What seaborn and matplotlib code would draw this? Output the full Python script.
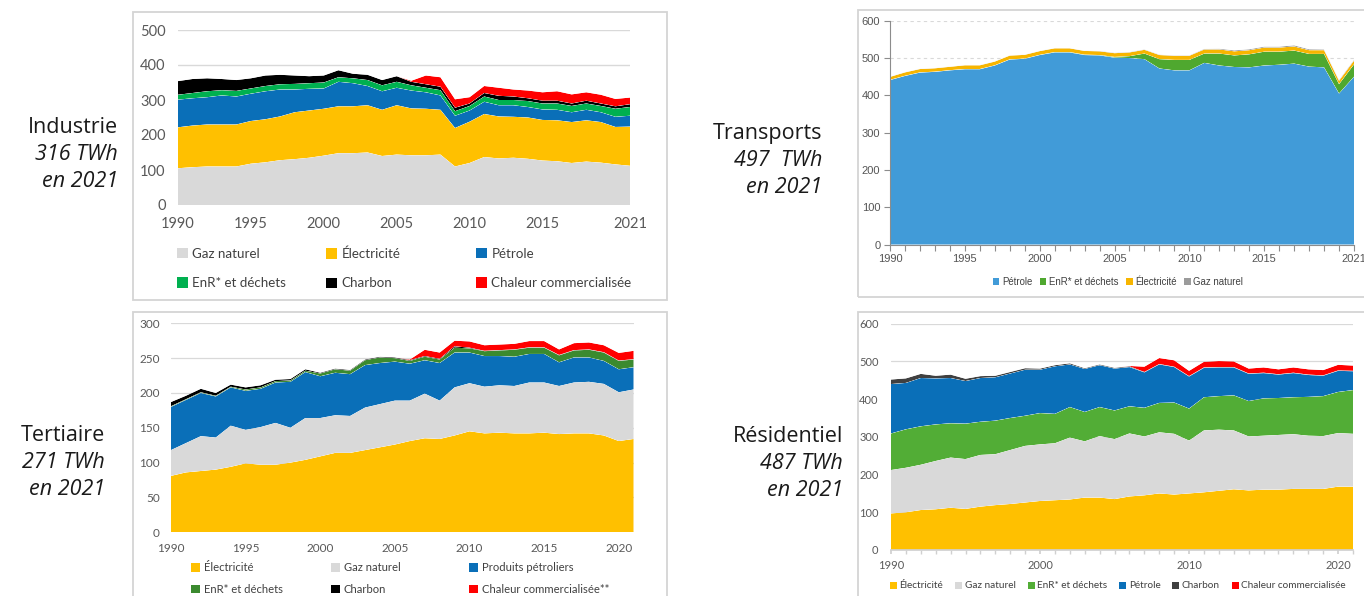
import pandas as pd
import seaborn as sns
import seaborn.objects as so
import matplotlib as mpl
import matplotlib.pyplot as plt
from matplotlib.patches import Patch, Rectangle

# === Data (TWh) ===
years = list(range(1990, 2022))

# Industrie
ind_gaz = [105, 108, 110, 110, 110, 118, 122, 128, 131, 135, 141, 148, 148, 150, 140, 144,
           142, 142, 144, 110, 120, 137, 133, 135, 132, 127, 125, 120, 124, 121, 116, 112]
ind_elec = [117, 119, 120, 120, 120, 122, 123, 125, 134, 135, 134, 134, 134, 135, 132, 141,
            134, 133, 128, 110, 118, 123, 120, 117, 118, 116, 117, 117, 118, 116, 107, 112]
ind_petrole = [79, 78, 78, 83, 80, 78, 80, 77, 65, 62, 58, 70, 66, 55, 53, 50,
               51, 47, 41, 35, 32, 35, 32, 33, 30, 30, 30, 28, 30, 28, 29, 31]
ind_enr = [14, 15, 17, 15, 16, 15, 15, 15, 16, 16, 17, 13, 14, 17, 17, 17,
           15, 13, 15, 13, 13, 15, 15, 15, 17, 17, 18, 18, 18, 18, 23, 25]
ind_charbon = [39, 40, 37, 32, 31, 29, 30, 27, 24, 20, 20, 20, 13, 15, 15, 16,
               10, 10, 10, 10, 7, 10, 12, 10, 8, 8, 8, 7, 8, 7, 7, 8]
ind_chaleur = [0, 0, 0, 0, 0, 0, 0, 0, 0, 0, 0, 0, 0, 0, 0, 0,
               3, 25, 27, 24, 18, 20, 23, 20, 22, 24, 27, 26, 24, 25, 21, 19]

# Transports
tr_petrole = [441, 452, 461, 463, 467, 470, 470, 480, 496, 498, 508, 515, 515, 508, 507, 501,
              500, 497, 472, 467, 467, 487, 480, 476, 475, 480, 482, 485, 477, 475, 405, 450]
tr_enr = [0.5, 0.5, 0.5, 0.5, 0.5, 0.5, 0.5, 0.5, 0.5, 0.5, 0.5, 1, 1, 1, 1, 2,
          5, 15, 25, 28, 28, 25, 32, 31, 35, 37, 35, 35, 34, 36, 25, 33]
tr_elec = [8, 9, 9, 9, 9, 10, 10, 10, 10, 10, 10, 10, 10, 10, 10, 10,
           10, 10, 11, 11, 11, 11, 11, 11, 11, 11, 11, 11, 10, 10, 9, 10]
tr_gaz = [0.5, 0.5, 0.5, 0.5, 0.5, 0.5, 0.5, 0.5, 0.5, 0.5, 0.5, 0.5, 0.5, 0.5, 1, 1,
          1, 1, 1, 1, 1, 1.5, 2, 2.5, 2.5, 2.5, 2.5, 3, 2.5, 2, 2, 2]

# Tertiaire
te_elec = [81, 86, 88, 90, 94, 99, 97, 97, 100, 104, 109, 114, 114, 118, 122, 126,
           131, 135, 134, 139, 145, 142, 143, 142, 142, 143, 141, 142, 142, 139, 131, 134]
te_gaz = [37, 42, 50, 46, 59, 48, 54, 60, 50, 60, 55, 54, 53, 61, 62, 63,
          58, 64, 55, 69, 69, 67, 68, 68, 73, 72, 69, 73, 74, 74, 70, 71]
te_petrole = [62, 62, 62, 59, 55, 56, 55, 58, 66, 66, 60, 61, 60, 61, 59, 56,
              53, 48, 54, 50, 44, 44, 42, 42, 41, 41, 34, 36, 35, 33, 33, 32]
te_enr = [1, 1, 1, 1, 1, 2, 2, 2, 2, 2, 4, 5, 5, 7, 8, 5,
          4, 5, 5, 7, 6, 7, 8, 10, 9, 9, 10, 10, 11, 12, 12, 11]
te_charbon = [6, 5, 5, 4, 3, 3, 3, 2, 2, 2, 1, 1, 1, 1, 1, 1,
              1, 1, 1, 2, 1, 0.5, 0.5, 0.5, 0.5, 0.5, 0.5, 0.5, 0.5, 0.5, 0.5, 0.5]
te_chaleur = [0, 0, 0, 0, 0, 0, 0, 0, 0, 0, 0, 0, 0, 0, 0, 0,
              1, 9, 9, 8, 9, 8, 8, 8, 9, 9, 8, 10, 10, 10, 11, 12]

# Résidentiel
re_elec = [97, 100, 106, 108, 112, 109, 115, 119, 122, 126, 130, 132, 134, 139, 139, 135,
           142, 145, 150, 147, 150, 153, 157, 161, 158, 160, 160, 162, 162, 162, 168, 168]
re_gaz = [115, 118, 120, 128, 133, 132, 137, 135, 143, 150, 150, 151, 164, 149, 163, 159,
          167, 156, 162, 161, 140, 164, 162, 156, 143, 143, 145, 145, 141, 140, 142, 140]
re_enr = [97, 102, 102, 97, 91, 94, 88, 89, 85, 80, 83, 78, 81, 78, 77, 76,
          72, 76, 78, 83, 85, 88, 89, 93, 94, 99, 98, 98, 103, 106, 109, 116]
re_petrole = [131, 123, 128, 122, 120, 113, 116, 115, 118, 122, 115, 126, 113, 114, 111, 111,
              104, 94, 102, 94, 85, 78, 76, 74, 72, 67, 62, 64, 58, 54, 56, 50]
re_charbon = [12, 12, 11, 7, 9, 6, 5, 4, 4, 4, 3, 3, 3, 2, 2, 2,
              2, 1, 1, 1, 1, 1, 1, 1, 1, 1, 1, 1, 1, 1, 1, 1]
re_chaleur = [0, 0, 0, 0, 0, 0, 0, 0, 0, 0, 0, 0, 0, 0, 0, 0,
              1, 14, 16, 17, 14, 15, 16, 15, 13, 14, 13, 14, 14, 14, 15, 14]

industrie = {"Gaz naturel": ind_gaz, "Électricité": ind_elec, "Pétrole": ind_petrole,
             "EnR* et déchets": ind_enr, "Charbon": ind_charbon,
             "Chaleur commercialisée": ind_chaleur}
industrie_colors = {"Gaz naturel": "#d9d9d9", "Électricité": "#ffc000", "Pétrole": "#0a6fb8",
                    "EnR* et déchets": "#00b050", "Charbon": "#000000",
                    "Chaleur commercialisée": "#ff0000"}

transports = {"Pétrole": tr_petrole, "EnR* et déchets": tr_enr,
              "Électricité": tr_elec, "Gaz naturel": tr_gaz}
transports_colors = {"Pétrole": "#419bd8", "EnR* et déchets": "#4fa82f",
                     "Électricité": "#f7b500", "Gaz naturel": "#9b9b9b"}

tertiaire = {"Électricité": te_elec, "Gaz naturel": te_gaz, "Produits pétroliers": te_petrole,
             "EnR* et déchets": te_enr, "Charbon": te_charbon,
             "Chaleur commercialisée**": te_chaleur}
tertiaire_colors = {"Électricité": "#ffc000", "Gaz naturel": "#d9d9d9",
                    "Produits pétroliers": "#0a6fb8", "EnR* et déchets": "#3b8a2f",
                    "Charbon": "#000000", "Chaleur commercialisée**": "#ff0000"}

residentiel = {"Électricité": re_elec, "Gaz naturel": re_gaz, "EnR* et déchets": re_enr,
               "Pétrole": re_petrole, "Charbon": re_charbon,
               "Chaleur commercialisée": re_chaleur}
residentiel_colors = {"Électricité": "#ffc000", "Gaz naturel": "#d9d9d9",
                      "EnR* et déchets": "#52ad36", "Pétrole": "#0a6fb8",
                      "Charbon": "#404040", "Chaleur commercialisée": "#ff0000"}

# === Style ===
sns.set_theme(style="white")
plt.rcParams['font.family'] = ['Open Sans', 'DejaVu Sans']
so.Plot.config.theme.update(mpl.rcParams)

W, H = 1364, 596
fig = plt.figure(figsize=(W / 100, H / 100), dpi=100)
fig.patch.set_facecolor("white")


def px_axes(x0, x1, y_top, y_bottom):
    return fig.add_axes([x0 / W, 1 - y_bottom / H, (x1 - x0) / W, (y_bottom - y_top) / H])


def frame(x0, y0, x1, y1):
    fig.add_artist(Rectangle((x0 / W, 1 - y1 / H), (x1 - x0) / W, (y1 - y0) / H,
                             transform=fig.transFigure, fill=False,
                             edgecolor="#d4d4d4", linewidth=1.3))


def stacked(ax, series, colors):
    parts = [pd.DataFrame({"annee": years, "twh": vals, "source": name})
             for name, vals in series.items()]
    df = pd.concat(parts, ignore_index=True)
    (so.Plot(df, x="annee", y="twh", color="source")
        .add(so.Area(alpha=1, edgewidth=0), so.Stack(), legend=False)
        .scale(color=so.Nominal(colors, order=list(series)))
        .on(ax)
        .plot())
    ax.set_xlabel("")
    ax.set_ylabel("")
    ax.set_facecolor("white")
    ax.set_axisbelow(True)


def column_legends(ax, series, colors, cols_x, rows_y, fontsize, family, sq=0.7, gap=1.0):
    # one small legend per column so the columns start where the reference has them
    names = list(series)
    ncols = len(cols_x)
    for c, x in enumerate(cols_x):
        idx = [i for i in range(len(names)) if i % ncols == c]
        handles = [Patch(facecolor=colors[names[i]], edgecolor="none") for i in idx]
        leg = ax.legend(handles, [names[i] for i in idx], loc="center left",
                        bbox_to_anchor=(x / W, 1 - rows_y / H), bbox_transform=fig.transFigure,
                        frameon=False, handlelength=sq, handleheight=sq,
                        handletextpad=0.35, labelspacing=gap, borderpad=0, borderaxespad=0,
                        prop={"family": family, "size": fontsize})
        for t in leg.get_texts():
            t.set_color("#404040")
        ax.add_artist(leg)
    ax.legend_ = None  # avoid drawing the last one twice


def row_legend(ax, series, colors, cx, cy, fontsize, family, spacing):
    handles = [Patch(facecolor=colors[n], edgecolor="none") for n in series]
    leg = ax.legend(handles, list(series), loc="center", ncol=len(series),
                    bbox_to_anchor=(cx / W, 1 - cy / H), bbox_transform=fig.transFigure,
                    frameon=False, handlelength=0.7, handleheight=0.7, handletextpad=0.25,
                    columnspacing=spacing, borderpad=0, prop={"family": family, "size": fontsize})
    for t in leg.get_texts():
        t.set_color("#404040")


def side_label(x, y, sector, total):
    fam = ["Open Sans", "DejaVu Sans"]
    fig.text(x / W, 1 - y / H, sector, ha="right", va="baseline", fontsize=15.5,
             family=fam, color="#1a1a1a")
    fig.text(x / W, 1 - (y + 27) / H, total, ha="right", va="baseline", fontsize=15.5,
             family=fam, style="italic", color="#1a1a1a")
    fig.text(x / W, 1 - (y + 54) / H, "en 2021", ha="right", va="baseline", fontsize=15.5,
             family=fam, style="italic", color="#1a1a1a")


# === Industrie ===
frame(133, 12, 667, 300)
ax1 = px_axes(178, 630, 30, 205)
stacked(ax1, industrie, industrie_colors)
ax1.set_xlim(1990, 2021)
ax1.set_ylim(0, 500)
ax1.set_yticks(range(0, 501, 100))
ax1.set_xticks([1990, 1995, 2000, 2005, 2010, 2015, 2021])
ax1.grid(axis="y", color="#d9d9d9", linewidth=1)
ax1.grid(axis="x", visible=False)
sns.despine(ax=ax1, left=True, bottom=True)
ax1.tick_params(length=0, labelsize=10.5, colors="#595959", pad=9)
for t in ax1.get_xticklabels() + ax1.get_yticklabels():
    t.set_family(["Lato", "DejaVu Sans"])
column_legends(ax1, industrie, industrie_colors, [177, 326, 476], 268.5, 9.6,
               ["Lato", "DejaVu Sans"], sq=0.8, gap=1.3)
side_label(118, 133, "Industrie", "316 TWh")

# === Transports ===
frame(858, 10, 1366, 297)
ax2 = px_axes(890, 1354, 20.7, 244.7)
stacked(ax2, transports, transports_colors)
ax2.set_xlim(1990, 2021)
ax2.set_ylim(0, 600)
ax2.set_yticks(range(0, 601, 100))
ax2.set_xticks([1990, 1995, 2000, 2005, 2010, 2015, 2021])
ax2.set_xticks(years, minor=True)
ax2.grid(axis="y", color="#d9d9d9", linewidth=0.8, linestyle=(0, (3, 3)))
ax2.grid(axis="x", visible=False)
sns.despine(ax=ax2)
for side in ["left", "bottom"]:
    ax2.spines[side].set_color("#8c8c8c")
    ax2.spines[side].set_linewidth(0.8)
ax2.tick_params(which="both", direction="out", length=4, width=0.8, color="#8c8c8c",
                labelsize=8, labelcolor="#555555", pad=3)
ax2.tick_params(axis="x", which="both", bottom=True)
ax2.tick_params(axis="y", left=True)
for t in ax2.get_xticklabels() + ax2.get_yticklabels():
    t.set_family(["Liberation Sans", "DejaVu Sans"])
row_legend(ax2, transports, transports_colors, 1118, 282, 6.9,
           ["Liberation Sans", "DejaVu Sans"], 0.8)
side_label(822, 139, "Transports", "497  TWh")

# === Tertiaire ===
frame(133, 312, 667, 600)
ax3 = px_axes(171, 633.7, 323.3, 532.3)
stacked(ax3, tertiaire, tertiaire_colors)
ax3.set_xlim(1990, 2021)
ax3.set_ylim(0, 300)
ax3.set_yticks(range(0, 301, 50))
ax3.set_xticks(range(1990, 2021, 5))
ax3.grid(axis="y", color="#d9d9d9", linewidth=0.9)
ax3.grid(axis="x", visible=False)
sns.despine(ax=ax3, left=True, bottom=True)
ax3.tick_params(length=0, labelsize=8.5, colors="#595959", pad=8)
for t in ax3.get_xticklabels() + ax3.get_yticklabels():
    t.set_family(["Lato", "DejaVu Sans"])
column_legends(ax3, tertiaire, tertiaire_colors, [191, 331, 469], 578.5, 8.1,
               ["Lato", "DejaVu Sans"], sq=0.8, gap=0.95)
side_label(105, 441, "Tertiaire", "271 TWh")

# === Résidentiel ===
frame(858, 312, 1366, 600)
ax4 = px_axes(891, 1353, 323.7, 550)
stacked(ax4, residentiel, residentiel_colors)
ax4.set_xlim(1990, 2021)
ax4.set_ylim(0, 600)
ax4.set_yticks(range(0, 601, 100))
ax4.set_xticks([1990, 2000, 2010, 2020])
ax4.set_xticks(years, minor=True)
ax4.grid(axis="y", color="#d9d9d9", linewidth=0.9)
ax4.grid(axis="x", visible=False)
sns.despine(ax=ax4, left=True)
ax4.spines["bottom"].set_color("#d0d0d0")
ax4.tick_params(axis="y", length=0, labelsize=8, colors="#595959", pad=9)
ax4.tick_params(axis="x", which="both", bottom=True, length=3, color="#d0d0d0",
                labelsize=8, labelcolor="#595959", pad=4)
for t in ax4.get_xticklabels() + ax4.get_yticklabels():
    t.set_family(["Lato", "DejaVu Sans"])
row_legend(ax4, residentiel, residentiel_colors, 1118, 586, 7.2, ["Lato", "DejaVu Sans"], 1.2)
side_label(843, 442, "Résidentiel", "487 TWh")

fig.savefig("out.png", dpi=100, facecolor="white")
